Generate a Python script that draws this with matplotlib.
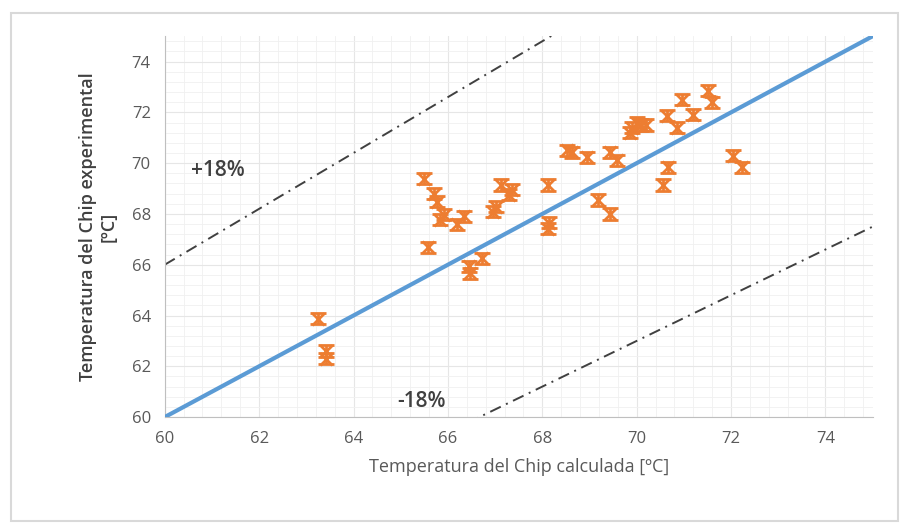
import matplotlib.pyplot as plt
from matplotlib.ticker import MultipleLocator
import numpy as np

# Calculated vs experimental chip temperature
t_calc = [63.25, 63.42, 63.42, 65.58, 65.49, 65.70, 65.77, 65.92, 65.83, 66.19,
          66.34, 66.45, 66.47, 66.72, 66.96, 67.02, 67.13, 67.36, 67.30, 68.12,
          68.12, 68.15, 68.53, 68.63, 68.95, 69.44, 69.59, 69.19, 69.44, 69.90,
          70.00, 70.10, 69.85, 70.20, 70.65, 70.86, 70.97, 71.20, 71.52, 71.60,
          72.05, 72.24, 70.67, 70.56]
t_exp = [63.87, 62.60, 62.30, 66.68, 69.38, 68.80, 68.48, 67.97, 67.77, 67.60,
         67.90, 65.94, 65.66, 66.25, 68.08, 68.28, 69.14, 68.95, 68.75, 69.14,
         67.42, 67.65, 70.51, 70.43, 70.23, 70.43, 70.12, 68.55, 68.00, 71.40,
         71.60, 71.50, 71.20, 71.50, 71.87, 71.40, 72.50, 71.90, 72.85, 72.40,
         70.30, 69.84, 69.84, 69.14]

ref_x = [60, 75]
upper_factor = 1.1
lower_factor = 0.9

plt.rcParams['font.family'] = ['Open Sans', 'DejaVu Sans']

fig = plt.figure(figsize=(9.1, 5.32), dpi=100)
ax = fig.add_axes([0.181, 0.216, 0.778, 0.716])

ax.plot(ref_x, ref_x, color="#5b9bd5", lw=3, zorder=3)
xx = np.array(ref_x, dtype=float)
ax.plot(xx, upper_factor * xx, color="#404040", lw=1.4, ls=(0, (6, 3, 1, 3)), zorder=2)
ax.plot(xx, lower_factor * xx, color="#404040", lw=1.4, ls=(0, (6, 3, 1, 3)), zorder=2)

ax.errorbar(t_calc, t_exp, yerr=0.22, fmt="x", color="#ed7d31", ms=8, mew=2,
            elinewidth=2, capsize=6, capthick=2, zorder=4)

ax.text(60.55, 69.7, "+18%", fontsize=15, color="#404040", va="center",
        fontweight="semibold")
ax.text(64.92, 60.6, "-18%", fontsize=15, color="#404040", va="center",
        fontweight="semibold")

ax.set_xlim(60, 75)
ax.set_ylim(60, 75)
ax.xaxis.set_major_locator(MultipleLocator(2))
ax.yaxis.set_major_locator(MultipleLocator(2))
ax.xaxis.set_minor_locator(MultipleLocator(0.4))
ax.yaxis.set_minor_locator(MultipleLocator(0.4))
ax.grid(which="major", color="#e6e6e6", lw=0.8)
ax.grid(which="minor", color="#f0f0f0", lw=0.6)
ax.set_axisbelow(True)
ax.tick_params(which="both", length=0, labelsize=12, labelcolor="#595959", pad=10)
for s in ["top", "right"]:
    ax.spines[s].set_visible(False)
for s in ["left", "bottom"]:
    ax.spines[s].set_color("#bfbfbf")

ax.set_xlabel("Temperatura del Chip calculada [ºC]", fontsize=13, color="#595959", labelpad=8)
ax.set_ylabel("Temperatura del Chip experimental\n[ºC]", fontsize=13, color="#404040",
              fontweight="semibold", labelpad=10)

fig.patches.append(plt.Rectangle((0.012, 0.02), 0.975, 0.955, transform=fig.transFigure,
                                 fill=False, edgecolor="#d9d9d9", lw=1.5))
fig.savefig("out.png", dpi=100)
